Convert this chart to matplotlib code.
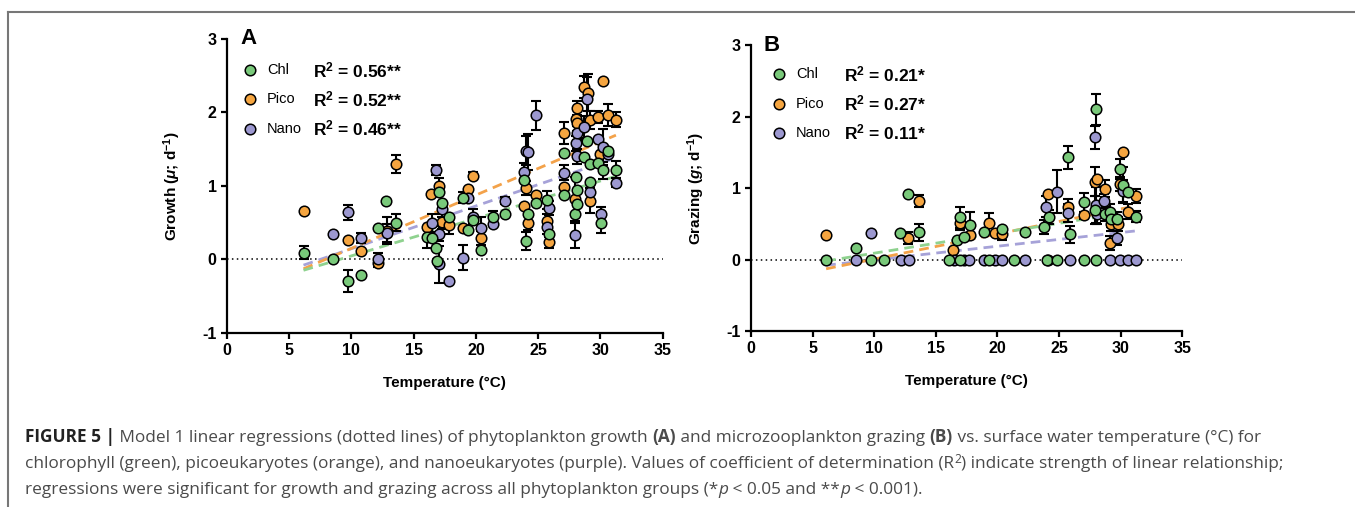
"""
Figure 5: phytoplankton growth (A) and microzooplankton grazing (B)
vs. surface water temperature, Prism-like styling.
"""
import numpy as np
import matplotlib
matplotlib.use('Agg')
import matplotlib.pyplot as plt
from matplotlib.lines import Line2D

plt.rcParams['font.family'] = ['Liberation Sans', 'DejaVu Sans']
plt.rcParams['axes.unicode_minus'] = False
plt.rcParams['mathtext.fontset'] = 'custom'
plt.rcParams['mathtext.rm'] = 'Liberation Sans:bold'
plt.rcParams['mathtext.bf'] = 'Liberation Sans:bold'
plt.rcParams['mathtext.it'] = 'Liberation Sans:italic:bold'

# ---------------- data ----------------
# Panel A: growth (d-1)
a_chl_t = [6.15, 8.5, 9.75, 10.8, 12.15, 12.8, 13.6, 16.05, 16.5, 16.8, 16.9, 17.0, 17.3, 17.8,
           19.0, 19.4, 19.8, 20.4, 21.4, 22.3, 23.9, 24.0, 24.2, 24.8, 25.7, 25.85, 27.05, 27.05,
           27.95, 28.05, 28.1, 28.15, 28.7, 28.95, 29.2, 29.2, 29.8, 30.05, 30.25, 30.65, 31.25]
a_chl_v = [0.09, 0.00, -0.30, -0.22, 0.43, 0.80, 0.50, 0.30, 0.29, 0.15, -0.02, 0.92, 0.77, 0.58,
           0.84, 0.40, 0.53, 0.12, 0.58, 0.62, 1.08, 0.25, 0.62, 0.76, 0.81, 0.35, 1.45, 0.87,
           0.61, 1.12, 0.95, 0.75, 1.39, 1.61, 1.30, 1.05, 1.31, 0.50, 1.21, 1.47, 1.22]
a_chl_e = [0.09, 0, 0.15, 0, 0, 0, 0.12, 0.15, 0, 0, 0, 0, 0, 0,
           0.08, 0, 0, 0, 0.08, 0, 0, 0.12, 0, 0, 0.12, 0, 0, 0,
           0, 0, 0, 0, 0, 0, 0, 0, 0, 0.14, 0.12, 0, 0.12]

a_pico_t = [6.15, 9.7, 10.8, 12.15, 12.85, 13.55, 16.05, 16.4, 17.0, 17.3, 17.8, 19.0, 19.4, 19.8,
            20.4, 23.9, 24.0, 24.2, 24.8, 25.7, 25.85, 27.05, 27.05, 27.95, 28.05, 28.1, 28.15,
            28.7, 29.0, 29.2, 29.2, 29.8, 30.0, 30.25, 30.65, 31.25]
a_pico_v = [0.66, 0.26, 0.11, -0.05, 0.39, 1.30, 0.44, 0.89, 1.00, 0.51, 0.46, 0.43, 0.96, 1.14,
            0.29, 0.73, 0.97, 0.50, 0.87, 0.52, 0.23, 1.72, 0.99, 0.82, 1.91, 2.06, 1.85,
            2.35, 2.27, 0.80, 1.90, 1.94, 1.44, 2.43, 1.97, 1.90]
a_pico_e = [0, 0, 0, 0.05, 0.18, 0.12, 0, 0, 0.10, 0.10, 0.12, 0, 0, 0.05,
            0.10, 0, 0.10, 0.10, 0, 0.10, 0.08, 0.15, 0, 0.30, 0, 0.10, 0.10,
            0.15, 0.25, 0.17, 0.12, 0.08, 0, 0, 0.15, 0.10]

a_nano_t = [8.5, 9.75, 10.8, 12.15, 12.85, 16.45, 16.8, 17.0, 17.0, 17.3, 17.8, 19.0, 19.4, 19.8,
            20.4, 21.4, 22.3, 23.9, 24.0, 24.2, 24.8, 25.7, 25.85, 27.05, 27.95, 28.05, 28.1,
            28.15, 28.7, 28.95, 29.2, 29.8, 30.05, 30.25, 30.65, 31.25]
a_nano_v = [0.35, 0.64, 0.29, 0.00, 0.36, 0.49, 1.22, 0.35, -0.07, 0.68, -0.30, 0.02, 0.84, 0.58,
            0.43, 0.48, 0.80, 1.19, 1.48, 1.46, 1.96, 0.44, 0.70, 1.18, 0.33, 1.58, 1.40,
            1.72, 1.80, 2.18, 0.91, 1.64, 0.61, 1.53, 1.43, 1.04]
a_nano_e = [0, 0.10, 0.07, 0.08, 0.12, 0.12, 0.07, 0.10, 0.25, 0.10, 0, 0.17, 0, 0.10,
            0.15, 0, 0.05, 0.12, 0.20, 0.25, 0.20, 0.10, 0.10, 0.10, 0.17, 0.10, 0.10,
            0.10, 0.15, 0.30, 0, 0, 0.10, 0.25, 0, 0.06]

# Panel B: grazing (d-1)
b_chl_t = [6.1, 8.5, 9.7, 10.8, 12.1, 12.75, 13.6, 16.05, 16.75, 16.95, 16.95, 17.3, 17.75, 18.9,
           19.3, 20.35, 21.35, 22.25, 23.8, 24.0, 24.15, 24.8, 25.75, 25.9, 27.0, 27.0, 27.9,
           28.0, 28.0, 28.7, 29.1, 29.2, 29.7, 29.95, 30.2, 30.6, 31.2]
b_chl_v = [0.00, 0.16, 0.00, 0.00, 0.37, 0.91, 0.38, 0.00, 0.28, 0.59, 0.00, 0.32, 0.48, 0.39,
           0.00, 0.42, 0.00, 0.39, 0.45, 0.00, 0.59, 0.00, 1.43, 0.35, 0.80, 0.00, 0.69,
           2.10, 0.00, 0.64, 0.66, 0.56, 0.57, 1.26, 1.04, 0.94, 0.60]
b_chl_e = [0, 0, 0, 0, 0, 0, 0.12, 0, 0, 0.15, 0, 0, 0.18, 0,
           0, 0, 0, 0, 0.10, 0, 0.10, 0, 0.16, 0.12, 0.13, 0, 0.20,
           0.22, 0, 0.10, 0.12, 0.10, 0.10, 0.14, 0.25, 0.05, 0.08]

b_pico_t = [6.1, 12.75, 13.6, 16.4, 16.95, 17.75, 19.35, 19.8, 20.35, 24.1, 25.75, 27.0, 27.9,
            28.1, 28.7, 29.1, 29.2, 29.75, 29.95, 30.2, 30.6, 31.2]
b_pico_v = [0.34, 0.30, 0.82, 0.14, 0.51, 0.34, 0.51, 0.37, 0.35, 0.91, 0.74, 0.62, 1.09,
            1.12, 0.99, 0.23, 0.50, 0.50, 1.06, 1.51, 0.67, 0.89]
b_pico_e = [0, 0.08, 0.08, 0, 0.10, 0, 0.14, 0, 0.08, 0, 0.10, 0.05, 0.20,
            0, 0.12, 0.10, 0.10, 0.10, 0.10, 0, 0.10, 0.10]

b_nano_t = [8.5, 9.7, 12.15, 12.8, 16.45, 17.25, 17.7, 18.9, 19.8, 20.35, 22.25, 23.95, 24.1,
            24.8, 25.75, 25.9, 27.95, 28.0, 28.1, 28.65, 29.15, 29.7, 29.9, 30.15, 30.6, 31.2]
b_nano_v = [0.00, 0.37, 0.00, 0.00, 0.00, 0.00, 0.00, 0.00, 0.00, 0.00, 0.00, 0.74, 0.00,
            0.95, 0.65, 0.00, 1.71, 0.76, 0.64, 0.82, 0.00, 0.30, 0.00, 0.96, 0.00, 0.00]
b_nano_e = [0, 0, 0, 0, 0, 0, 0, 0, 0, 0, 0, 0.15, 0,
            0.30, 0.12, 0, 0.16, 0.25, 0.15, 0.10, 0, 0.10, 0, 0.15, 0, 0]

# regression lines: (t_start, t_end, value_start, value_end)
a_fits = {'Chl': (6.15, 31.25, -0.15, 1.13),
          'Pico': (6.15, 31.25, -0.13, 1.69),
          'Nano': (6.15, 31.25, -0.08, 1.38)}
b_fits = {'Chl': (6.1, 31.2, -0.02, 0.68),
          'Pico': (6.1, 31.2, -0.13, 0.75),
          'Nano': (6.1, 31.2, -0.08, 0.40)}

groups = ['Chl', 'Pico', 'Nano']
a_r2 = ['0.56**', '0.52**', '0.46**']
b_r2 = ['0.21*', '0.27*', '0.11*']

x_ticks = [0, 5, 10, 15, 20, 25, 30, 35]
y_ticks = [-1, 0, 1, 2, 3]

# ---------------- styling ----------------
colors = {'Chl': '#79c97a', 'Pico': '#f5a540', 'Nano': '#9c98d0'}
line_colors = {'Chl': '#8fd28f', 'Pico': '#f3a24a', 'Nano': '#a6a2d8'}
draw_order = ['Pico', 'Nano', 'Chl']

fig = plt.figure(figsize=(13.55, 5.07), dpi=100)
axA = fig.add_axes([0.1675, 0.3438, 0.3215, 0.5793])
axB = fig.add_axes([0.5542, 0.3471, 0.3184, 0.5641])


def draw_panel(ax, series, fits, r2, letter, ylabel, leg_x, txt_x, r2_x, leg_y):
    ax.plot([0, 35], [0, 0], color='black', lw=1.1, ls=(0, (1, 2.2)), zorder=1)
    for g in ['Nano', 'Pico', 'Chl']:
        t0, t1, v0, v1 = fits[g]
        ax.plot([t0, t1], [v0, v1], color=line_colors[g], lw=2.0,
                ls=(0, (3.5, 2.2)), zorder=1.5)
    for g in draw_order:
        t, v, e = (np.array(a) for a in series[g])
        m = e > 0
        ax.errorbar(t[m], v[m], yerr=e[m], fmt='none', ecolor='black',
                    elinewidth=1.5, capsize=3.3, capthick=1.5, zorder=2, clip_on=False)
        ax.plot(t, v, 'o', ms=7.6, mfc=colors[g], mec='black', mew=1.1,
                zorder=3, clip_on=False)

    ax.set_xlim(0, 35)
    ax.set_ylim(-1, 3)
    ax.set_xticks(x_ticks)
    ax.set_yticks(y_ticks)
    for s in ['top', 'right']:
        ax.spines[s].set_visible(False)
    for s in ['left', 'bottom']:
        ax.spines[s].set_linewidth(1.6)
    ax.tick_params(direction='out', length=4.5, width=1.6, labelsize=11.5, pad=3)
    for lab in ax.get_xticklabels() + ax.get_yticklabels():
        lab.set_fontweight('bold')
    ax.set_xlabel('Temperature (°C)', fontsize=11, fontweight='bold', labelpad=13)
    ax.set_ylabel(ylabel, fontsize=11, fontweight='bold', labelpad=14)

    ax.text(0.03, 1.0, letter, transform=ax.transAxes, fontsize=16,
            fontweight='bold', ha='left', va='center')
    for i, g in enumerate(groups):
        y = leg_y[i]
        ax.plot([leg_x], [y], 'o', ms=7.6, mfc=colors[g], mec='black', mew=1.1,
                transform=ax.transAxes, clip_on=False)
        ax.text(txt_x, y, g, transform=ax.transAxes, fontsize=10.5, va='center', ha='left')
        ax.text(r2_x, y, r'$\mathbf{R^2}$ = ' + r2[i], transform=ax.transAxes,
                fontsize=12.5, fontweight='bold', va='center', ha='left')


draw_panel(axA,
           {'Chl': (a_chl_t, a_chl_v, a_chl_e), 'Pico': (a_pico_t, a_pico_v, a_pico_e),
            'Nano': (a_nano_t, a_nano_v, a_nano_e)},
           a_fits, a_r2, 'A', r'Growth ($\mathit{\mu}$; d$^{\mathbf{-1}}$)',
           0.054, 0.092, 0.198, [0.893, 0.795, 0.695])
draw_panel(axB,
           {'Chl': (b_chl_t, b_chl_v, b_chl_e), 'Pico': (b_pico_t, b_pico_v, b_pico_e),
            'Nano': (b_nano_t, b_nano_v, b_nano_e)},
           b_fits, b_r2, 'B', r'Grazing ($\mathit{g}$; d$^{\mathbf{-1}}$)',
           0.066, 0.104, 0.216, [0.897, 0.795, 0.693])

# frame of the page
fig.add_artist(Line2D([8 / 1355, 1], [1 - 12 / 507, 1 - 12 / 507], color='#777777', lw=1.5))
fig.add_artist(Line2D([8 / 1355, 8 / 1355], [0, 1 - 12 / 507], color='#777777', lw=1.5))

# ---------------- caption ----------------
renderer = fig.canvas.get_renderer()
W, H = fig.bbox.width, fig.bbox.height
cap_color = '#4a4a4a'
cap_family = ['Open Sans', 'Liberation Sans', 'DejaVu Sans']


def run_width(s, **kw):
    t1 = fig.text(0, 0, '|' + s + '|', **kw)
    t2 = fig.text(0, 0, '||', **kw)
    w = t1.get_window_extent(renderer).width - t2.get_window_extent(renderer).width
    t1.remove()
    t2.remove()
    return w


def line_props(kw, size):
    props = dict(fontsize=size, color=cap_color, va='baseline', ha='left', family=cap_family)
    props.update(kw)
    if 'sup' in props:
        props.pop('sup')
        props['fontsize'] = size * 0.7
    return props


def line_width(runs, size):
    return sum(run_width(s, **{k: v for k, v in line_props(kw, size).items() if k != 'dy'})
               for s, kw in runs)


def draw_line(runs, x0, y0, size):
    x = x0
    for s, kw in runs:
        props = line_props(kw, size)
        dy = props.pop('dy', 0)
        fig.text(x / W, 1 - (y0 - dy) / H, s, **props)
        x += run_width(s, **props)


N = {}
B = {'fontweight': 'bold'}
I = {'style': 'italic'}
SUP = {'sup': True, 'dy': 5}
cap_lines = [
    [('FIGURE 5 |', {'fontweight': 'bold', 'color': '#222222'}),
     (' Model 1 linear regressions (dotted lines) of phytoplankton growth ', N), ('(A)', B),
     (' and microzooplankton grazing ', N), ('(B)', B),
     (' vs. surface water temperature (°C) for', N)],
    [('chlorophyll (green), picoeukaryotes (orange), and nanoeukaryotes (purple). '
      'Values of coefficient of determination (R', N), ('2', SUP),
     (') indicate strength of linear relationship;', N)],
    [('regressions were significant for growth and grazing across all phytoplankton groups (*', N),
     ('p', I), (' < 0.05 and **', N), ('p', I), (' < 0.001).', N)],
]
# first caption line runs from x=25 to x=1255 in the reference
cap_size = 10.0 * 1230 / line_width(cap_lines[0], 10.0)
for i, runs in enumerate(cap_lines):
    draw_line(runs, 25, 442 + 26 * i, cap_size)

fig.savefig('out.png', dpi=100)
